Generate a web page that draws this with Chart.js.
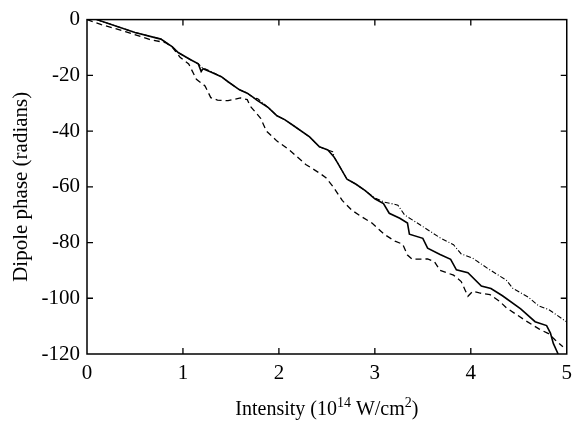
<!DOCTYPE html>
<html>
<head>
<meta charset="utf-8">
<script src="https://cdn.jsdelivr.net/npm/chart.js@4/dist/chart.umd.min.js"></script>
<style>
  html, body { margin: 0; padding: 0; background: #fff; }
  #wrap { width: 579px; height: 425px; }
</style>
</head>
<body>
<div id="wrap"><canvas id="phaseChart"></canvas></div>
<script>
// solid curve
const solidX = [0.1, 0.5, 0.77, 0.89, 0.95, 1.08, 1.16, 1.19, 1.21, 1.29, 1.4, 1.47, 1.59, 1.67, 1.74, 1.77, 1.89, 1.98, 2.06, 2.15, 2.32, 2.42, 2.51, 2.57, 2.61, 2.71, 2.8, 2.9, 3.0, 3.09, 3.15, 3.26, 3.34, 3.36, 3.5, 3.55, 3.68, 3.79, 3.85, 3.97, 4.11, 4.21, 4.33, 4.52, 4.67, 4.79, 4.83, 4.86, 4.91];
const solidY = [0, -4.6, -7.0, -9.8, -11.8, -14.4, -15.9, -18.6, -17.6, -18.8, -20.5, -22.3, -25.2, -26.4, -28.1, -28.9, -31.6, -34.5, -35.9, -38.0, -42.1, -45.6, -46.8, -49.1, -51.3, -57.3, -59.0, -61.4, -64.3, -66.0, -69.5, -71.3, -73.0, -77.0, -78.5, -82.0, -84.3, -86.0, -89.8, -90.8, -95.6, -96.5, -99.1, -103.8, -108.4, -109.8, -112.5, -116.2, -120];

// dash-dot curve (follows the solid one up to ~3.1)
const dashDotX = [0.1, 0.5, 0.77, 0.89, 0.95, 1.08, 1.16, 1.2, 1.29, 1.4, 1.47, 1.59, 1.67, 1.74, 1.78, 1.89, 1.98, 2.06, 2.15, 2.32, 2.42, 2.51, 2.56, 2.58, 2.61, 2.71, 2.8, 2.9, 3.0, 3.1, 3.17, 3.24, 3.31, 3.51, 3.68, 3.82, 3.9, 4.02, 4.18, 4.37, 4.44, 4.6, 4.71, 4.81, 5.0];
const dashDotY = [0, -4.6, -7.0, -9.8, -11.8, -14.4, -15.9, -17.2, -18.6, -20.5, -22.3, -25.2, -26.4, -28.1, -28.4, -31.6, -34.5, -35.9, -38.0, -42.1, -45.6, -46.8, -47.4, -49.6, -51.3, -57.3, -59.0, -61.4, -64.0, -65.5, -66.0, -66.6, -70.1, -74.5, -78.3, -80.8, -84.1, -85.6, -89.4, -93.5, -96.5, -99.6, -102.8, -104.0, -108.5];

// dashed curve
const dashedX = [0, 0.15, 0.4, 0.65, 0.82, 0.89, 0.97, 1.06, 1.14, 1.23, 1.29, 1.36, 1.47, 1.6, 1.67, 1.7, 1.81, 1.87, 1.98, 2.11, 2.28, 2.42, 2.49, 2.57, 2.66, 2.76, 2.86, 2.97, 3.1, 3.21, 3.29, 3.34, 3.39, 3.55, 3.62, 3.68, 3.82, 3.9, 3.94, 3.97, 4.02, 4.09, 4.2, 4.3, 4.37, 4.57, 4.71, 4.81, 4.88, 4.96];
const dashedY = [0, -1.8, -4.3, -7.1, -8.3, -10.0, -13.5, -15.9, -21.4, -23.8, -28.0, -28.9, -29.1, -28.1, -28.7, -31.0, -35.4, -40.0, -43.6, -46.8, -52.0, -55.0, -56.7, -60.2, -64.9, -68.4, -70.7, -73.0, -77.1, -79.5, -80.6, -84.5, -86.0, -85.9, -86.8, -90.0, -91.7, -94.0, -97.0, -99.3, -97.5, -98.1, -98.7, -101.1, -103.4, -108.0, -111.0, -112.7, -115.0, -117.4];

const xTicks = [0, 1, 2, 3, 4, 5];
const yTicks = [0, -20, -40, -60, -80, -100, -120];

function pts(xs, ys) {
  return xs.map((x, i) => ({ x: x, y: ys[i] }));
}

const serif = "'Liberation Serif', 'DejaVu Serif', serif";

// box round the plot with inward tick marks on all four sides
const frameTicks = {
  id: 'frameTicks',
  afterDatasetsDraw(chart) {
    const { ctx, chartArea: a, scales: { x, y } } = chart;
    ctx.save();
    ctx.strokeStyle = '#000';
    ctx.lineWidth = 1.5;
    ctx.strokeRect(a.left, a.top, a.right - a.left, a.bottom - a.top);
    ctx.lineWidth = 1.3;
    ctx.beginPath();
    for (const t of xTicks) {
      const px = x.getPixelForValue(t);
      if (px <= a.left + 1 || px >= a.right - 1) continue;
      ctx.moveTo(px, a.bottom); ctx.lineTo(px, a.bottom - 6);
      ctx.moveTo(px, a.top); ctx.lineTo(px, a.top + 6);
    }
    for (const t of yTicks) {
      const py = y.getPixelForValue(t);
      if (py <= a.top + 1 || py >= a.bottom - 1) continue;
      ctx.moveTo(a.left, py); ctx.lineTo(a.left + 6, py);
      ctx.moveTo(a.right, py); ctx.lineTo(a.right - 6, py);
    }
    ctx.stroke();
    ctx.restore();
  }
};

// x axis title, with superscripts
const xTitle = {
  id: 'xTitle',
  afterDraw(chart) {
    const { ctx, chartArea: a } = chart;
    const big = '20px ' + serif, small = '14px ' + serif;
    const parts = [['Intensity (10', big, 0], ['14', small, -8], [' W/cm', big, 0], ['2', small, -8], [')', big, 0]];
    ctx.save();
    ctx.fillStyle = '#000';
    ctx.textBaseline = 'alphabetic';
    let w = 0;
    for (const p of parts) { ctx.font = p[1]; w += ctx.measureText(p[0]).width; }
    let cx = (a.left + a.right) / 2 - w / 2;
    for (const p of parts) {
      ctx.font = p[1];
      ctx.fillText(p[0], cx, 415 + p[2]);
      cx += ctx.measureText(p[0]).width;
    }
    ctx.restore();
  }
};

new Chart(document.getElementById('phaseChart'), {
  type: 'line',
  data: {
    datasets: [
      { label: 'solid', data: pts(solidX, solidY), borderColor: '#000', borderWidth: 1.6 },
      { label: 'dash-dot', data: pts(dashDotX, dashDotY), borderColor: '#000', borderWidth: 1.1, borderDash: [5, 2, 1, 2] },
      { label: 'dashed', data: pts(dashedX, dashedY), borderColor: '#000', borderWidth: 1.3, borderDash: [6, 4] }
    ]
  },
  options: {
    responsive: true,
    maintainAspectRatio: false,
    animation: false,
    layout: { padding: { top: 11, right: 3, left: 0, bottom: 0 } },
    elements: { point: { radius: 0 }, line: { tension: 0 } },
    plugins: { legend: { display: false }, tooltip: { enabled: false } },
    scales: {
      x: {
        type: 'linear',
        min: 0, max: 5,
        grid: { display: false, drawTicks: false },
        border: { display: false },
        afterFit(scale) { scale.height = 71; },
        afterBuildTicks(scale) { scale.ticks = xTicks.map(v => ({ value: v })); },
        ticks: { padding: 7, color: '#000', font: { family: serif, size: 21 } }
      },
      y: {
        min: -120, max: 0,
        grid: { display: false, drawTicks: false },
        border: { display: false },
        afterFit(scale) { scale.width = 87; },
        afterBuildTicks(scale) { scale.ticks = yTicks.map(v => ({ value: v })); },
        ticks: { padding: 7, color: '#000', font: { family: serif, size: 21 } },
        title: { display: true, text: 'Dipole phase (radians)', color: '#000', padding: { top: 9 }, font: { family: serif, size: 21 } }
      }
    }
  },
  plugins: [frameTicks, xTitle]
});
</script>
</body>
</html>
